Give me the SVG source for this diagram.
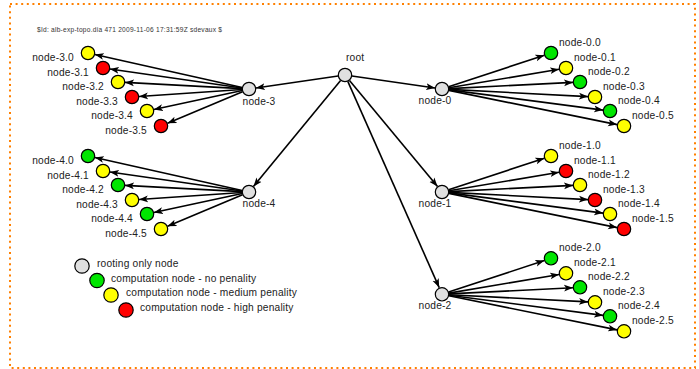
<svg xmlns="http://www.w3.org/2000/svg" width="699" height="369" viewBox="0 0 699 369">
<defs>
<marker id="arr" markerUnits="userSpaceOnUse" markerWidth="10" markerHeight="8" refX="9" refY="4" orient="auto">
<path d="M0,0.6 L9,4 L0,7.4 L2.2,4 z" fill="#000"/>
</marker>
<style>
.bd{fill:none;stroke:#ff8000;stroke-width:2;stroke-dasharray:2 3.6}
.ln{stroke:#000;stroke-width:1.6;fill:none;marker-end:url(#arr)}
circle{stroke:#000;stroke-width:1.2}
.g{fill:#e0e0e0}.gr{fill:#00e600}.y{fill:#ffff00}.r{fill:#ff0000}
text{font-family:"Liberation Sans",Arial,sans-serif;font-size:10.2px;letter-spacing:0.2px;fill:#222}
.e{text-anchor:end}.m{text-anchor:middle}
.t{font-size:6.6px;letter-spacing:0;fill:#333}
</style>
</defs>
<rect class="bd" x="10" y="4" width="685" height="364"/>
<text class="t" x="37" y="32" textLength="185" lengthAdjust="spacing">$Id: alb-exp-topo.dia 471 2009-11-06 17:31:59Z sdevaux $</text>

<g id="connectors">
<line class="ln" x1="338.1" y1="76" x2="255.9" y2="88"/>
<line class="ln" x1="351.9" y1="76" x2="435.1" y2="88"/>
<line class="ln" x1="340.6" y1="80.4" x2="253.4" y2="186.6"/>
<line class="ln" x1="349.5" y1="80.4" x2="437.5" y2="186.6"/>
<line class="ln" x1="347.8" y1="81.4" x2="439.2" y2="287.6"/>
<g id="c0">
<line class="ln" x1="448.6" y1="86.8" x2="544.4" y2="55.2"/>
<line class="ln" x1="448.9" y1="87.8" x2="559.1" y2="69.2"/>
<line class="ln" x1="449" y1="88.6" x2="573" y2="82.4"/>
<line class="ln" x1="449" y1="89.4" x2="588" y2="96.6"/>
<line class="ln" x1="448.9" y1="89.9" x2="603.1" y2="110.1"/>
<line class="ln" x1="448.9" y1="90.4" x2="617.1" y2="124.6"/>
</g>
<g id="c1" transform="translate(0,103)">
<line class="ln" x1="448.6" y1="86.8" x2="544.4" y2="55.2"/>
<line class="ln" x1="448.9" y1="87.8" x2="559.1" y2="69.2"/>
<line class="ln" x1="449" y1="88.6" x2="573" y2="82.4"/>
<line class="ln" x1="449" y1="89.4" x2="588" y2="96.6"/>
<line class="ln" x1="448.9" y1="89.9" x2="603.1" y2="110.1"/>
<line class="ln" x1="448.9" y1="90.4" x2="617.1" y2="124.6"/>
</g>
<g id="c2" transform="translate(0,205.3)">
<line class="ln" x1="448.6" y1="86.8" x2="544.4" y2="55.2"/>
<line class="ln" x1="448.9" y1="87.8" x2="559.1" y2="69.2"/>
<line class="ln" x1="449" y1="88.6" x2="573" y2="82.4"/>
<line class="ln" x1="449" y1="89.4" x2="588" y2="96.6"/>
<line class="ln" x1="448.9" y1="89.9" x2="603.1" y2="110.1"/>
<line class="ln" x1="448.9" y1="90.4" x2="617.1" y2="124.6"/>
</g>
<g id="c3">
<line class="ln" x1="242.2" y1="87.5" x2="94.8" y2="54.5"/>
<line class="ln" x1="242.1" y1="88" x2="109.9" y2="69"/>
<line class="ln" x1="242" y1="88.6" x2="125" y2="82.4"/>
<line class="ln" x1="242" y1="89.5" x2="139" y2="96.5"/>
<line class="ln" x1="242.2" y1="90.5" x2="153.8" y2="109.5"/>
<line class="ln" x1="242.5" y1="91.7" x2="167.5" y2="123.3"/>
</g>
<g id="c4" transform="translate(0,103)">
<line class="ln" x1="242.2" y1="87.5" x2="94.8" y2="54.5"/>
<line class="ln" x1="242.1" y1="88" x2="109.9" y2="69"/>
<line class="ln" x1="242" y1="88.6" x2="125" y2="82.4"/>
<line class="ln" x1="242" y1="89.5" x2="139" y2="96.5"/>
<line class="ln" x1="242.2" y1="90.5" x2="153.8" y2="109.5"/>
<line class="ln" x1="242.5" y1="91.7" x2="167.5" y2="123.3"/>
</g>
</g>

<g id="root"><circle class="g" cx="345" cy="75" r="6.7"/><text x="346" y="61">root</text></g>
<g id="node-3"><circle class="g" cx="249" cy="89" r="6.7"/><text class="m" x="259" y="105">node-3</text></g>
<g id="node-4"><circle class="g" cx="249" cy="192" r="6.7"/><text class="m" x="259" y="207">node-4</text></g>
<g id="node-0"><circle class="g" cx="442" cy="89" r="6.7"/><text class="m" x="435" y="104">node-0</text></g>
<g id="node-1"><circle class="g" cx="442" cy="192" r="6.7"/><text class="m" x="435" y="207">node-1</text></g>
<g id="node-2"><circle class="g" cx="442" cy="294.3" r="6.7"/><text class="m" x="435" y="309">node-2</text></g>

<g id="node-0.0"><circle class="gr" cx="551" cy="53" r="6.7"/><text x="559" y="46">node-0.0</text></g>
<g id="node-0.1"><circle class="y" cx="566" cy="68" r="6.7"/><text x="574" y="61">node-0.1</text></g>
<g id="node-0.2"><circle class="gr" cx="580" cy="82" r="6.7"/><text x="588" y="75">node-0.2</text></g>
<g id="node-0.3"><circle class="y" cx="595" cy="97" r="6.7"/><text x="603" y="90">node-0.3</text></g>
<g id="node-0.4"><circle class="gr" cx="610" cy="111" r="6.7"/><text x="618" y="104">node-0.4</text></g>
<g id="node-0.5"><circle class="y" cx="624" cy="126" r="6.7"/><text x="632" y="119">node-0.5</text></g>

<g id="node-1.0"><circle class="y" cx="551" cy="156" r="6.7"/><text x="559" y="149">node-1.0</text></g>
<g id="node-1.1"><circle class="r" cx="566" cy="171" r="6.7"/><text x="574" y="164">node-1.1</text></g>
<g id="node-1.2"><circle class="y" cx="580" cy="185" r="6.7"/><text x="588" y="178">node-1.2</text></g>
<g id="node-1.3"><circle class="r" cx="595" cy="200" r="6.7"/><text x="603" y="193">node-1.3</text></g>
<g id="node-1.4"><circle class="y" cx="610" cy="214" r="6.7"/><text x="618" y="207">node-1.4</text></g>
<g id="node-1.5"><circle class="r" cx="624" cy="229" r="6.7"/><text x="632" y="222">node-1.5</text></g>

<g id="node-2.0"><circle class="gr" cx="551" cy="258.3" r="6.7"/><text x="559" y="251.3">node-2.0</text></g>
<g id="node-2.1"><circle class="y" cx="566" cy="273.3" r="6.7"/><text x="574" y="266.3">node-2.1</text></g>
<g id="node-2.2"><circle class="gr" cx="580" cy="287.3" r="6.7"/><text x="588" y="280.3">node-2.2</text></g>
<g id="node-2.3"><circle class="y" cx="595" cy="302.3" r="6.7"/><text x="603" y="295.3">node-2.3</text></g>
<g id="node-2.4"><circle class="gr" cx="610" cy="316.3" r="6.7"/><text x="618" y="309.3">node-2.4</text></g>
<g id="node-2.5"><circle class="y" cx="624" cy="331.3" r="6.7"/><text x="632" y="324.3">node-2.5</text></g>

<g id="node-3.0"><circle class="y" cx="88" cy="53" r="6.7"/><text class="e" x="74" y="61">node-3.0</text></g>
<g id="node-3.1"><circle class="r" cx="103" cy="68" r="6.7"/><text class="e" x="89" y="76">node-3.1</text></g>
<g id="node-3.2"><circle class="y" cx="118" cy="82" r="6.7"/><text class="e" x="104" y="90">node-3.2</text></g>
<g id="node-3.3"><circle class="r" cx="132" cy="97" r="6.7"/><text class="e" x="118" y="105">node-3.3</text></g>
<g id="node-3.4"><circle class="y" cx="147" cy="111" r="6.7"/><text class="e" x="133" y="119">node-3.4</text></g>
<g id="node-3.5"><circle class="r" cx="161" cy="126" r="6.7"/><text class="e" x="147" y="134">node-3.5</text></g>

<g id="node-4.0"><circle class="gr" cx="88" cy="156" r="6.7"/><text class="e" x="74" y="164">node-4.0</text></g>
<g id="node-4.1"><circle class="y" cx="103" cy="171" r="6.7"/><text class="e" x="89" y="179">node-4.1</text></g>
<g id="node-4.2"><circle class="gr" cx="118" cy="185" r="6.7"/><text class="e" x="104" y="193">node-4.2</text></g>
<g id="node-4.3"><circle class="y" cx="132" cy="200" r="6.7"/><text class="e" x="118" y="208">node-4.3</text></g>
<g id="node-4.4"><circle class="gr" cx="147" cy="214" r="6.7"/><text class="e" x="133" y="222">node-4.4</text></g>
<g id="node-4.5"><circle class="y" cx="161" cy="229" r="6.7"/><text class="e" x="147" y="237">node-4.5</text></g>

<g id="legend">
<circle class="g" cx="82" cy="266" r="7.2"/><text x="97" y="267">rooting only node</text>
<circle class="gr" cx="97" cy="280.5" r="7.2"/><text x="111" y="281.5">computation node - no penality</text>
<circle class="y" cx="111" cy="295" r="7.2"/><text x="126" y="296">computation node - medium penality</text>
<circle class="r" cx="126" cy="310" r="7.2"/><text x="140" y="310.5">computation node - high penality</text>
</g>
</svg>
